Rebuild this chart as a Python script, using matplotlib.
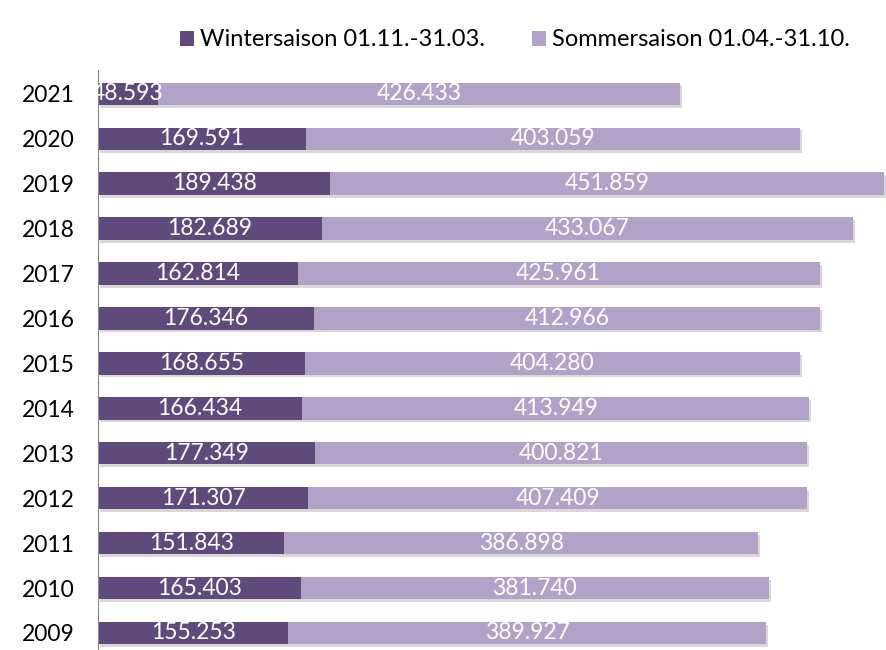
import matplotlib.pyplot as plt
import matplotlib.patheffects as pe

plt.rcParams['font.family'] = ['Lato', 'DejaVu Sans']

years = ['2009', '2010', '2011', '2012', '2013', '2014', '2015',
         '2016', '2017', '2018', '2019', '2020', '2021']
winter = [155253, 165403, 151843, 171307, 177349, 166434, 168655,
          176346, 162814, 182689, 189438, 169591, 48593]
summer = [389927, 381740, 386898, 407409, 400821, 413949, 404280,
          412966, 425961, 433067, 451859, 403059, 426433]

col_winter = '#604a7b'
col_summer = '#b3a2c7'

fig = plt.figure(figsize=(8.86, 6.5), dpi=100)
ax = fig.add_axes([98 / 886, 0, 788 / 886, 580 / 650])

pos = range(len(years))
b1 = ax.barh(pos, winter, height=0.5, color=col_winter, label='Wintersaison 01.11.-31.03.')
b2 = ax.barh(pos, summer, left=winter, height=0.5, color=col_summer, label='Sommersaison 01.04.-31.10.')

# soft drop shadow under the bars only
shadow = [pe.SimplePatchShadow(offset=(1.5, -2), alpha=0.3, shadow_rgbFace='#808080'), pe.Normal()]
for b in list(b1) + list(b2):
    b.set_path_effects(shadow)

def fmt(v):
    return f'{v:,}'.replace(',', '.')

for i in pos:
    ax.text(winter[i] / 2, i, fmt(winter[i]), ha='center', va='center',
            color='white', fontsize=16.5)
    ax.text(winter[i] + summer[i] / 2, i, fmt(summer[i]), ha='center', va='center',
            color='white', fontsize=16.5)

ax.set_xlim(0, 642900)
ax.set_ylim(-0.379, 12.53)
ax.set_yticks(list(pos))
ax.set_yticklabels(years, fontsize=16.5)
ax.tick_params(axis='y', length=0, pad=17)
ax.set_xticks([])
for s in ['top', 'right', 'bottom']:
    ax.spines[s].set_visible(False)
ax.spines['left'].set_color('#888888')

leg = fig.legend(loc='center', bbox_to_anchor=(515 / 886, 1 - 40 / 650), ncol=2,
                 frameon=False, fontsize=17, handlelength=0.6, handleheight=0.6,
                 handletextpad=0.25, columnspacing=2.0)
for h in leg.legend_handles:
    h.set_path_effects([])

plt.savefig('out.png', dpi=100)
